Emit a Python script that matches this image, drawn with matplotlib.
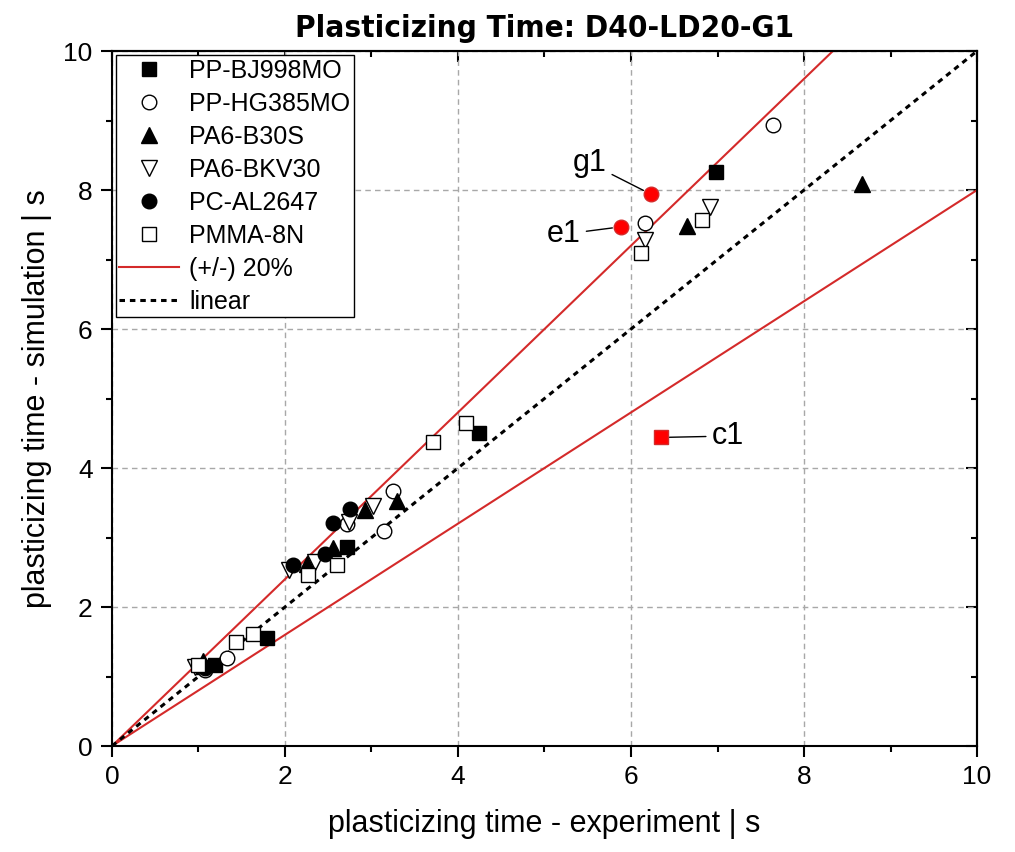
#!/usr/bin/env python3
"""Plasticizing time: simulation vs experiment, D40-LD20-G1."""

import matplotlib
matplotlib.use("Agg")
import matplotlib.pyplot as plt
import numpy as np
from matplotlib.ticker import MultipleLocator

plt.rcParams["font.family"] = ["Liberation Sans", "DejaVu Sans"]

RED = "#d42a2a"

# measured data (experiment, simulation) per material
pp_bj_x = [6.98, 4.24, 2.72, 1.79, 1.19, 1.05]
pp_bj_y = [8.26, 4.51, 2.86, 1.55, 1.17, 1.14]

pp_hg_x = [7.64, 6.16, 3.25, 3.14, 2.72, 1.33, 1.07]
pp_hg_y = [8.94, 7.52, 3.67, 3.09, 3.20, 1.27, 1.10]

pa6_b30_x = [8.67, 6.65, 3.30, 2.92, 2.55, 2.25, 1.05]
pa6_b30_y = [8.08, 7.48, 3.52, 3.40, 2.85, 2.62, 1.22]

pa6_bkv_x = [6.91, 6.16, 3.02, 2.74, 2.05, 2.35, 0.96]
pa6_bkv_y = [7.76, 7.28, 3.45, 3.22, 2.53, 2.65, 1.14]

pc_x = [2.55, 2.75, 2.46, 2.09, 1.08]
pc_y = [3.21, 3.41, 2.76, 2.60, 1.12]

pmma_x = [6.82, 6.11, 4.09, 3.71, 2.60, 2.27, 1.43, 1.63, 1.00]
pmma_y = [7.57, 7.09, 4.65, 4.37, 2.60, 2.46, 1.50, 1.61, 1.17]

# highlighted points
g1_x, g1_y = 6.23, 7.94
e1_x, e1_y = 5.88, 7.47
c1_x, c1_y = 6.35, 4.44

TOL = 0.20


def main():
    fig = plt.figure(figsize=(10.15, 8.52), dpi=100)
    ax = fig.add_axes([0.1103, 0.1244, 0.8523, 0.8157])

    ax.set_xlim(0, 10)
    ax.set_ylim(0, 10)

    xs = np.array([0, 10])
    ax.plot(xs, xs * (1 + TOL), color=RED, lw=1.5, label="(+/-) 20%", zorder=2)
    ax.plot(xs, xs * (1 - TOL), color=RED, lw=1.5, zorder=2)
    ax.plot(xs, xs, color="black", lw=2.2, ls=(0, (1.8, 1.6)), label="linear", zorder=2)

    ms_sq, ms_c, ms_t = 9.5, 10.5, 11
    ax.plot(pp_bj_x, pp_bj_y, "s", ms=ms_sq, mfc="black", mec="black", ls="none", label="PP-BJ998MO", zorder=3)
    ax.plot(pp_hg_x, pp_hg_y, "o", ms=ms_c, mfc="white", mec="black", mew=1, ls="none", label="PP-HG385MO", zorder=3)
    ax.plot(pa6_b30_x, pa6_b30_y, "^", ms=ms_t, mfc="black", mec="black", ls="none", label="PA6-B30S", zorder=3)
    ax.plot(pa6_bkv_x, pa6_bkv_y, "v", ms=ms_t, mfc="white", mec="black", mew=1, ls="none", label="PA6-BKV30", zorder=3)
    ax.plot(pc_x, pc_y, "o", ms=ms_c, mfc="black", mec="black", ls="none", label="PC-AL2647", zorder=3)
    ax.plot(pmma_x, pmma_y, "s", ms=ms_sq, mfc="white", mec="black", mew=1, ls="none", label="PMMA-8N", zorder=3)

    ax.plot([g1_x, e1_x], [g1_y, e1_y], "o", ms=ms_c, color="red", mec=RED, zorder=4)
    ax.plot([c1_x], [c1_y], "s", ms=ms_sq, color="red", mec=RED, zorder=4)

    arrow = dict(arrowstyle="-", color="black", lw=1, shrinkA=2, shrinkB=6)
    ax.annotate("g1", xy=(g1_x, g1_y), xytext=(5.72, 8.27), fontsize=22,
                ha="right", va="baseline", arrowprops=arrow, zorder=5)
    ax.annotate("e1", xy=(e1_x, e1_y), xytext=(5.42, 7.25), fontsize=22,
                ha="right", va="baseline", arrowprops=arrow, zorder=5)
    ax.annotate("c1", xy=(c1_x, c1_y), xytext=(6.93, 4.46), fontsize=22,
                ha="left", va="center", arrowprops=arrow, zorder=5)

    ax.grid(True, which="major", color="#a8a8a8", ls=(0, (4, 3)), lw=1)
    ax.set_axisbelow(True)

    ax.xaxis.set_major_locator(MultipleLocator(2))
    ax.xaxis.set_minor_locator(MultipleLocator(1))
    ax.yaxis.set_major_locator(MultipleLocator(2))
    ax.yaxis.set_minor_locator(MultipleLocator(1))
    ax.tick_params(which="major", direction="out", length=8, width=1.5, labelsize=19, pad=6)
    ax.tick_params(which="minor", direction="out", length=4.5, width=1.5)
    for sp in ax.spines.values():
        sp.set_linewidth(1.5)

    # inward ticks on top and right
    top = ax.secondary_xaxis("top")
    right = ax.secondary_yaxis("right")
    for sec, axis in ((top, top.xaxis), (right, right.yaxis)):
        axis.set_major_locator(MultipleLocator(2))
        axis.set_minor_locator(MultipleLocator(1))
        sec.tick_params(which="major", direction="in", length=8, width=1.5, labelsize=0)
        sec.tick_params(which="minor", direction="in", length=4.5, width=1.5)
        axis.set_ticklabels([])
        for sp in sec.spines.values():
            sp.set_linewidth(1.5)

    ax.set_xlabel("plasticizing time - experiment | s", fontsize=22, labelpad=14)
    ax.set_ylabel("plasticizing time - simulation | s", fontsize=22, labelpad=8)
    ax.set_title("Plasticizing Time: D40-LD20-G1", fontsize=22.5, fontweight="bold",
                 family="DejaVu Sans", fontstretch="condensed", pad=10)

    handles, labels = ax.get_legend_handles_labels()
    order = [2, 3, 4, 5, 6, 7, 0, 1]
    leg = ax.legend([handles[i] for i in order], [labels[i] for i in order],
                    loc="upper left", fontsize=18, frameon=True, fancybox=False,
                    edgecolor="black", framealpha=1, borderaxespad=0.15,
                    handlelength=2.4, handletextpad=0.4, labelspacing=0.36,
                    borderpad=0.15)
    leg.get_frame().set_linewidth(1.0)

    fig.savefig("out.png", dpi=100)
    plt.close(fig)


if __name__ == "__main__":
    main()
